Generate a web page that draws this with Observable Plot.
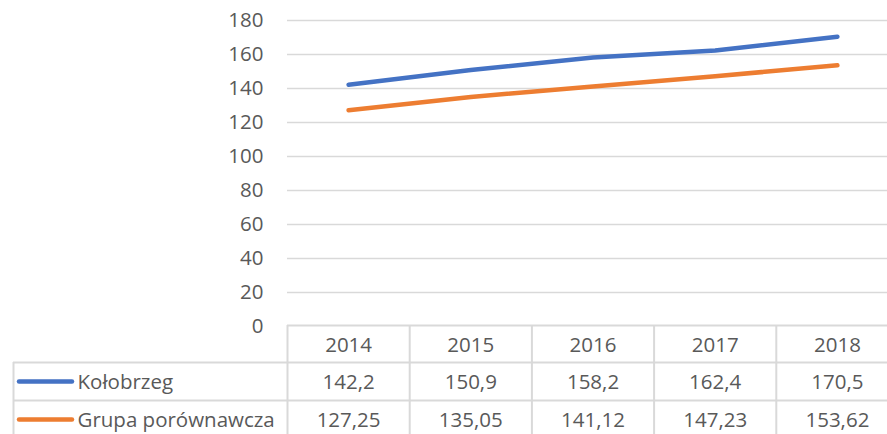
<!DOCTYPE html>
<html>
<head>
<meta charset="utf-8">
<script src="https://cdn.jsdelivr.net/npm/d3@7"></script>
<script src="https://cdn.jsdelivr.net/npm/@observablehq/plot@0.6"></script>
<style>
  html, body { margin: 0; padding: 0; background: #fff; overflow: hidden; }
</style>
</head>
<body>
<div id="chart"></div>
<script>
const years = [2014, 2015, 2016, 2017, 2018];
const kolobrzeg = [142.2, 150.9, 158.2, 162.4, 170.5];
const grupa = [127.25, 135.05, 141.12, 147.23, 153.62];
const seriesNames = ["Kołobrzeg", "Grupa porównawcza"];
const seriesColors = ["#4472C4", "#ED7D31"];
const yTicks = [0, 20, 40, 60, 80, 100, 120, 140, 160, 180];

const series = [kolobrzeg, grupa];
const lineData = series.flatMap((vals, s) => vals.map((v, i) => ({year: years[i], value: v, name: seriesNames[s]})));
const bounds = [years[0] - 0.5, ...years.map(y => y + 0.5)];
const fmt = v => String(v).replace(".", ",");
const grid = "#d9d9d9";

const marks = [
  Plot.ruleY(yTicks.filter(t => t > 0), {stroke: grid, strokeWidth: 1.3}),
  // table horizontal lines
  Plot.ruleY([0], {stroke: grid, strokeWidth: 2, dy: -1, insetRight: -11}),
  Plot.ruleY([0], {stroke: grid, strokeWidth: 2, dy: 36, insetLeft: -274, insetRight: -11}),
  Plot.ruleY([0], {stroke: grid, strokeWidth: 2, dy: 74, insetLeft: -274, insetRight: -11}),
  // table vertical lines
  Plot.ruleX(bounds, {stroke: grid, strokeWidth: 2, insetTop: 305, insetBottom: -115}),
  Plot.ruleX([bounds[0]], {stroke: grid, strokeWidth: 2, dx: -274, insetTop: 342, insetBottom: -115}),
  // header
  Plot.text(years, {x: d => d, text: d => String(d), frameAnchor: "bottom", lineAnchor: "middle", dy: 19}),
  // series lines
  Plot.line(lineData, {x: "year", y: "value", z: "name", stroke: d => seriesColors[seriesNames.indexOf(d.name)], strokeWidth: 4.5, strokeLinecap: "round"})
];

series.forEach((vals, s) => {
  const dy = s === 0 ? 56 : 94;
  marks.push(
    Plot.text(vals, {x: (d, i) => years[i], text: d => fmt(d), frameAnchor: "bottom", lineAnchor: "middle", dy}),
    Plot.ruleY([0], {stroke: seriesColors[s], strokeWidth: 4.5, strokeLinecap: "round", dy: dy - 1, insetLeft: -268, insetRight: 815}),
    Plot.text([seriesNames[s]], {text: d => d, frameAnchor: "bottom-left", lineAnchor: "middle", dx: -210, dy, textAnchor: "start"})
  );
});

const chart = Plot.plot({
  width: 887,
  height: 434,
  marginTop: 20,
  marginBottom: 108,
  marginLeft: 287,
  marginRight: 0,
  style: {fontFamily: "'Open Sans', sans-serif", fontSize: "20.5px", color: "#595959", background: "#fff", overflow: "visible"},
  x: {domain: [bounds[0], bounds[bounds.length - 1]], range: [287, 898], axis: null},
  y: {domain: [0, 180], ticks: yTicks, tickSize: 0, tickPadding: 24, label: null, tickFormat: d => String(d)},
  marks
});
document.getElementById("chart").appendChild(chart);
</script>
</body>
</html>
